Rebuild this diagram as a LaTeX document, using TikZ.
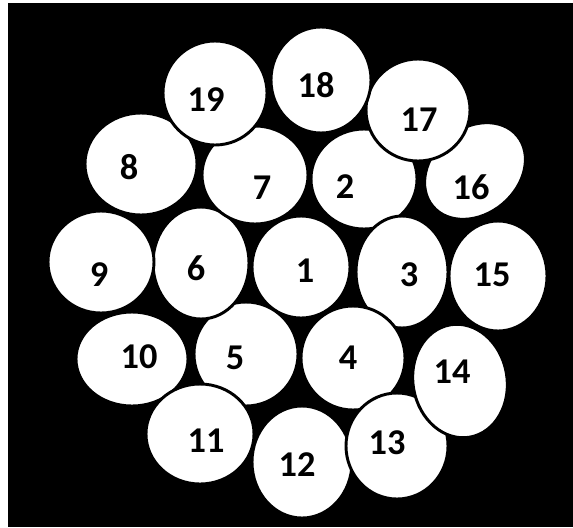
\documentclass[tikz,border=0pt]{standalone}
\usepackage{fontspec}
\setmainfont{Carlito}
\usepackage{tikz}
\usetikzlibrary{positioning}

\begin{document}
\begin{tikzpicture}[
    x=0.03cm, y=-0.03cm,
    blob/.style={fill=white, draw=black, line width=2.5pt},
    num/.style={font=\bfseries\fontsize{31}{32}\selectfont, text=black, inner sep=0pt}
  ]
    % frame
    \fill[white] (0,0) rectangle (573,527);
    \fill[black] (8,3) rectangle (573,527);
    \useasboundingbox (0,0) rectangle (573,527);

    % cells
    \filldraw[blob] (301,267) ellipse [x radius=49, y radius=51];
    \filldraw[blob] (364,179) ellipse [x radius=53, y radius=50];
    \filldraw[blob] (402,272) ellipse [x radius=46, y radius=56];
    \filldraw[blob] (353,358) ellipse [x radius=52, y radius=52];
    \filldraw[blob] (246,354) ellipse [x radius=52, y radius=52];
    \filldraw[blob] (201,263) ellipse [x radius=48, y radius=56];
    \filldraw[blob] (255,175) ellipse [x radius=53, y radius=49];
    \filldraw[blob] (141,164) ellipse [x radius=56, y radius=51];
    \filldraw[blob] (101,262) ellipse [x radius=53, y radius=51];
    \filldraw[blob] (132,359) ellipse [x radius=56, y radius=47];
    \filldraw[blob] (200,434) ellipse [x radius=54, y radius=50];
    \filldraw[blob] (302,462) ellipse [x radius=50, y radius=56];
    \filldraw[blob] (397,446) ellipse [x radius=51, y radius=53];
    \filldraw[blob, rotate around={10:(460,381)}] (460,381) ellipse [x radius=47, y radius=57];
    \filldraw[blob] (498,276) ellipse [x radius=49, y radius=55];
    \filldraw[blob, rotate around={40:(475,171)}] (475,171) ellipse [x radius=55, y radius=43];
    \filldraw[blob] (418,110) ellipse [x radius=52, y radius=51];
    \filldraw[blob] (321,80) ellipse [x radius=50, y radius=53];
    \filldraw[blob] (215,93) ellipse [x radius=52, y radius=52];

    % labels
    \node[num] (n1) at (305,271) {1};
    \node[num] (n2) at (345,187) {2};
    \node[num] (n3) at (409,275) {3};
    \node[num] (n4) at (348,358) {4};
    \node[num] (n5) at (235,358) {5};
    \node[num] (n6) at (196,268) {6};
    \node[num] (n7) at (262,188) {7};
    \node[num] (n8) at (129,167) {8};
    \node[num] (n9) at (99,275) {9};
    \node[num] (n10) at (139,357) {10};
    \node[num] (n11) at (206,441) {11};
    \node[num] (n12) at (297,465) {12};
    \node[num] (n13) at (387,443) {13};
    \node[num] (n14) at (452,372) {14};
    \node[num] (n15) at (492,275) {15};
    \node[num] (n16) at (471,187) {16};
    \node[num] (n17) at (419,120) {17};
    \node[num] (n18) at (316,85) {18};
    \node[num] (n19) at (206,100) {19};
\end{tikzpicture}
\end{document}
